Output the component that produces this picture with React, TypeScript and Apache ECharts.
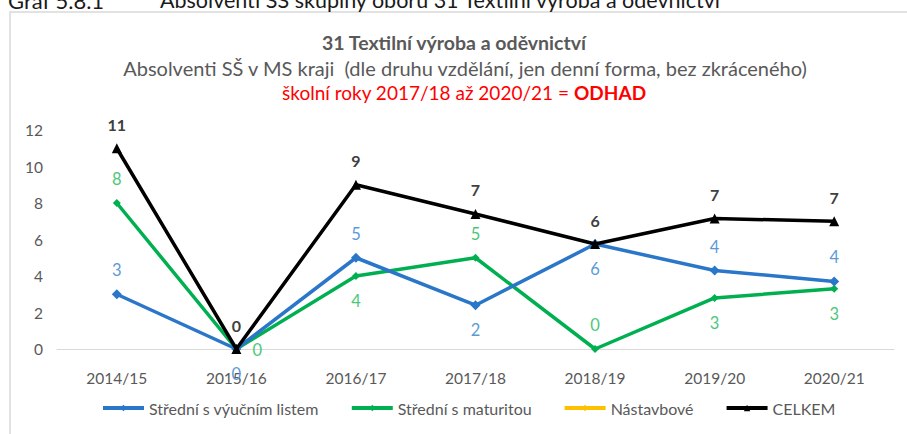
import React, { useEffect, useRef } from "react";
import * as echarts from "echarts";

const categories = ["2014/15", "2015/16", "2016/17", "2017/18", "2018/19", "2019/20", "2020/21"];
const vyucni = [3, 0, 5, 2.4, 5.75, 4.3, 3.7];
const maturita = [8, 0, 4, 5, 0, 2.8, 3.3];
const nastavbove: (number | null)[] = [null, null, null, null, null, null, null];
const celkem = [11, 0, 9, 7.4, 5.75, 7.15, 7.0];
// label placement per point: "a" above, "b" below, "r" right
const vyucniPos = ["a", "b", "a", "b", "b", "a", "a"];
const maturitaPos = ["a", "r", "b", "a", "a", "b", "b"];
const celkemPos = ["a", "a", "a", "a", "a", "a", "a"];

const yTicks = { min: 0, max: 12, interval: 2 };

const FONT = "Lato";

function withLabels(values: (number | null)[], pos: string[], color: string, bold: boolean, size: number) {
  return values.map((v, i) => {
    const p = pos[i];
    const offset = p === "a" ? [0, -24] : p === "b" ? [0, 25] : [21, 1];
    return {
      value: v,
      label: {
        show: v !== null,
        position: "inside",
        offset,
        color,
        fontFamily: FONT,
        fontSize: size,
        fontWeight: bold ? "bold" : "normal",
        formatter: (d: any) => String(Math.round(d.value)),
      },
    };
  });
}

export default function App() {
  const ref = useRef<HTMLDivElement>(null);
  useEffect(() => {
    const chart = echarts.init(ref.current!, undefined, { renderer: "svg" });
    chart.setOption({
      animation: false,
      backgroundColor: "#ffffff",
      textStyle: { fontFamily: FONT },
      graphic: [
        {
          type: "rect",
          shape: { x: 10, y: 12, width: 920, height: 440 },
          style: { fill: "none", stroke: "#D9D9D9", lineWidth: 1.5 },
          z: -1,
        },
        {
          type: "text",
          x: 8,
          y: 11,
          style: { text: "Graf 5.8.1", fill: "#1a1a1a", font: `22px ${FONT}`, textVerticalAlign: "bottom" },
        },
        {
          type: "text",
          x: 160,
          y: 11,
          style: {
            text: "Absolventi SŠ skupiny oborů 31 Textilní výroba a oděvnictví",
            fill: "#1a1a1a",
            font: `21.5px ${FONT}`,
            textVerticalAlign: "bottom",
          },
        },
        {
          type: "text",
          x: 454,
          y: 42,
          style: {
            text: "31 Textilní výroba a oděvnictví",
            fill: "#595959",
            font: `bold 19.5px ${FONT}`,
            textAlign: "center",
            textVerticalAlign: "middle",
          },
        },
        {
          type: "text",
          x: 465,
          y: 68,
          style: {
            text: "Absolventi SŠ v MS kraji  (dle druhu vzdělání, jen denní forma, bez zkráceného)",
            fill: "#595959",
            font: `20px ${FONT}`,
            textAlign: "center",
            textVerticalAlign: "middle",
          },
        },
        {
          type: "text",
          x: 464,
          y: 92,
          style: {
            text: "{n|školní roky 2017/18 až 2020/21 = }{b|ODHAD}",
            textAlign: "center",
            textVerticalAlign: "middle",
            rich: {
              n: { fill: "#FF0000", fontFamily: FONT, fontSize: 19 },
              b: { fill: "#FF0000", fontFamily: FONT, fontSize: 19, fontWeight: "bold" },
            },
          } as any,
        },
      ],
      legend: {
        bottom: 13,
        left: 96,
        itemWidth: 41,
        itemHeight: 8,
        itemGap: 31,
        lineStyle: { width: 4 },
        textStyle: { color: "#595959", fontFamily: FONT, fontSize: 16 },
        data: ["Střední s výučním listem", "Střední s maturitou", "Nástavbové", "CELKEM"],
      },
      grid: { left: 57, right: 13, top: 130, bottom: 85, containLabel: false },
      xAxis: {
        type: "category",
        data: categories,
        boundaryGap: true,
        axisLine: { lineStyle: { color: "#D9D9D9", width: 1 } },
        axisTick: { show: false },
        axisLabel: { color: "#595959", fontFamily: FONT, fontSize: 15.5, margin: 21 },
      },
      yAxis: {
        type: "value",
        min: yTicks.min,
        max: yTicks.max,
        interval: yTicks.interval,
        axisLine: { show: false },
        axisTick: { show: false },
        splitLine: { show: false },
        axisLabel: { color: "#595959", fontFamily: FONT, fontSize: 15.5, margin: 14 },
      },
      series: [
        {
          name: "Střední s výučním listem",
          type: "line",
          data: withLabels(vyucni, vyucniPos, "#5B9BD5", false, 16.5),
          symbol: "diamond",
          symbolSize: 10,
          lineStyle: { color: "#2A77C9", width: 3.5 },
          itemStyle: { color: "#2A77C9" },
          z: 3,
        },
        {
          name: "Střední s maturitou",
          type: "line",
          data: withLabels(maturita, maturitaPos, "#4CC77A", false, 16.5),
          symbol: "diamond",
          symbolSize: 8,
          lineStyle: { color: "#00B050", width: 3.5 },
          itemStyle: { color: "#00B050" },
          z: 2,
        },
        {
          name: "Nástavbové",
          type: "line",
          data: nastavbove,
          symbol: "diamond",
          symbolSize: 8,
          lineStyle: { color: "#FFC000", width: 3.5 },
          itemStyle: { color: "#FFC000" },
        },
        {
          name: "CELKEM",
          type: "line",
          data: withLabels(celkem, celkemPos, "#404040", true, 16),
          symbol: "triangle",
          symbolSize: 10,
          lineStyle: { color: "#000000", width: 3.5 },
          itemStyle: { color: "#000000" },
          z: 4,
        },
      ],
    });
    return () => chart.dispose();
  }, []);
  return <div ref={ref} style={{ position: "fixed", left: 0, top: 0, width: 907, height: 434 }} />;
}
